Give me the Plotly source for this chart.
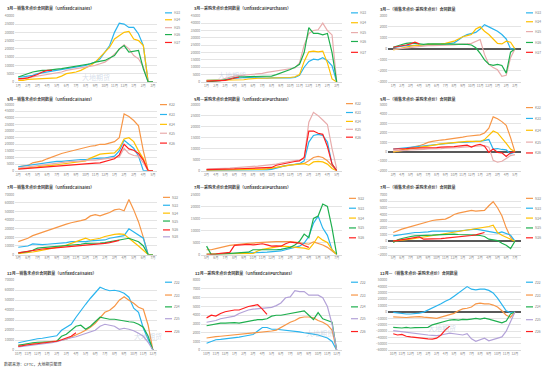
import plotly.graph_objects as go

W, H = 550, 373
X = [i / 2 for i in range(29)]  # half-month steps, 0..14

TICKS_H = ["1月", "2月", "3月", "4月", "5月", "6月", "7月", "8月", "9月", "10月", "11月", "12月", "1月", "2月", "3月"]
TICKS_K = ["3月", "4月", "5月", "6月", "7月", "8月", "9月", "10月", "11月", "12月", "1月", "2月", "3月", "4月", "5月"]
TICKS_N = ["5月", "6月", "7月", "8月", "9月", "10月", "11月", "12月", "1月", "2月", "3月", "4月", "5月", "6月", "7月"]
TICKS_Z = ["10月", "11月", "12月", "1月", "2月", "3月", "4月", "5月", "6月", "7月", "8月", "9月", "10月", "11月", "12月"]

N_ = None
# ---- March contracts ----
H23_S = [3000, 3000, 3500, 4000, 5000, 5500, 6000, 6500, 7000, 7500, 8000, 8500, 9000, 9500, 10000, 11000, 12000, 14000, 18000, 22000, 30000, 35500, 35000, 33000, 33000, 29000, 22000, 0, 0]
H24_S = [1000, 1000, 1500, 1600, 1800, 2000, 2200, 2400, 2500, 3500, 5000, 5500, 6000, 7000, 8500, 10000, 12000, 15000, 18000, 21000, 26000, 28000, 30000, 30500, 26000, 25000, 22000, 0, 0]
H25_S = [1500, 2000, 2500, 3000, 3500, 4000, 4500, 5000, 5500, 6000, 7000, 7500, 8000, 8500, 9000, 9500, 10000, 11000, 12000, 14000, 17000, 20000, 22500, 20000, 16000, 14000, 9000, 0, 0]
H26_S = [3000, 4000, 5000, 6000, 6500, 7000, 7000, 7500, 7800, 8000, 8500, 9000, 9500, 10000, 10500, 11000, 12000, 12500, 13000, 14500, 16000, 20000, 22000, 18000, 18500, 19000, 8000, 0, 0]
H27_S = [2000, 2000, 2500, 3500, 4500, 6000, 7000, 7000, N_, N_, N_, N_, N_, N_, N_, N_, N_, N_, N_, N_, N_, N_, N_, N_, N_, N_, N_, N_, N_]

H23_P = [1000, 1000, 1000, 1200, 1500, 2000, 2500, 2800, 3000, 3000, 2800, 2700, 2500, 2600, 2700, 2600, 2500, 2700, 2800, 3000, 4500, 10000, 14000, 15500, 15000, 16500, 14500, 11000, 0]
H24_P = [1000, 1000, 1200, 1300, 1500, 1500, 1500, 1500, 1500, 2000, 2500, 2500, 2500, 2500, 2500, 2500, 2500, 2700, 3000, 3500, 5000, 14000, 20500, 21000, 20500, 21000, 13000, 2000, 0]
H25_P = [500, 600, 800, 1500, 2500, 3500, 4000, 4300, 4500, 5000, 5200, 5500, 5800, 6500, 7000, 7500, 8000, 8500, 9000, 9500, 13000, 25000, 33000, 35000, 35500, 40000, 35000, 32000, 0]
H26_P = [0, 200, 500, 900, 1500, 2200, 3000, 3400, 3500, 3500, 3500, 3500, 3500, 3800, 4000, 5000, 6000, 7000, 8500, 10000, 12000, 20000, 37000, 33000, 33000, 32000, 33000, 20000, 0]
H27_P = [500, 500, 600, 800, 1000, 1800, 2800, 3200, N_, N_, N_, N_, N_, N_, N_, N_, N_, N_, N_, N_, N_, N_, N_, N_, N_, N_, N_, N_, N_]

H23_N = [100, 200, 250, 300, 300, 300, 350, 350, 350, 400, 400, 450, 450, 500, 550, 800, 1100, 1300, 1400, 1500, 1800, 2200, 2000, 1800, 1600, 1300, 900, 0, 0]
H24_N = [-100, 0, 100, 200, 250, 300, 300, 350, 400, 400, 450, 450, 500, 600, 700, 900, 1100, 1200, 1300, 1800, 2000, 1600, 1300, 900, 500, 450, 700, 600, 0]
H25_N = [-50, 0, 50, 100, 150, 200, 250, 300, 300, 300, 300, 350, 350, 350, 350, 400, 400, 450, 500, 700, 850, -500, -1400, -1700, -1900, -2500, -2400, -800, 0]
H26_N = [150, 300, 400, 500, 550, 500, 450, 400, 450, 450, 450, 450, 450, 450, 450, 450, 450, 400, 350, 100, -400, -1000, -1400, -1500, -1400, -1500, -2200, -300, 0]
H27_N = [150, 200, 250, 350, 450, 600, 450, N_, N_, N_, N_, N_, N_, N_, N_, N_, N_, N_, N_, N_, N_, N_, N_, N_, N_, N_, N_, N_, N_]

# ---- May contracts ----
K22_S = [3000, 3500, 4000, 6000, 6500, 7500, 9000, 10500, 12000, 13000, 14000, 15000, 16000, 16500, 17500, 18500, 19000, 20000, 20000, 21000, 22000, 25000, 43000, 41000, 38000, 34000, 15000, 0, 0]
K23_S = [3000, 3500, 4000, 5000, 5500, 6000, 6500, 6500, 7000, 7000, 7500, 8000, 8000, 8500, 8500, 9000, 9000, 9500, 9500, 10000, 11000, 15000, 23000, 20000, 17000, 11000, 0, 0, 0]
K24_S = [1500, 1800, 2000, 2500, 3000, 3500, 3500, 4000, 4500, 5000, 5500, 5500, 6000, 6500, 7500, 9500, 11000, 12500, 13000, 13000, 13500, 17000, 24000, 25000, 22000, 15000, 9000, 0, 0]
K25_S = [2000, 2500, 3000, 3500, 4000, 4500, 5000, 5500, 5500, 6000, 6500, 7000, 7000, 7500, 7500, 8000, 8000, 8500, 8500, 9000, 9500, 10500, 17000, 13000, 11500, 11000, 6000, 0, 0]
K26_S = [1200, 1500, 1800, 2000, 2500, 3000, 3200, 3500, 3800, 4000, 4200, 4500, 4800, 5000, 5200, 5500, 5800, 6000, 7000, 7500, 9000, 12000, 20000, 16500, 15500, 13000, 8000, 0, 0]

K22_P = [500, 500, 500, 500, 500, 500, 500, 500, 500, 500, 500, 500, 500, 800, 1000, 1500, 2000, 2300, 2600, 2800, 3000, 3300, 4500, 6000, 6500, 6000, 4500, 2000, 0]
K23_P = [200, 200, 200, 200, 200, 200, 200, 200, 200, 200, 200, 200, 200, 400, 600, 1200, 1800, 2300, 2600, 2800, 3200, 4500, 13000, 16000, 16500, 16000, 13000, 3000, 0]
K24_P = [300, 300, 300, 300, 300, 300, 300, 300, 300, 300, 300, 400, 600, 800, 1200, 1600, 2000, 2300, 2500, 2800, 3000, 3200, 2500, 4000, 4200, 4000, 3000, 1000, 0]
K25_P = [800, 800, 900, 1000, 1100, 1200, 1300, 1400, 1600, 1800, 2000, 2100, 2300, 2500, 2700, 3000, 3500, 4000, 4300, 4600, 4800, 5500, 22000, 26500, 25000, 23000, 21000, 10000, 1000]
K26_P = [500, 500, 500, 600, 700, 700, 800, 900, 1000, 1000, 1100, 1200, 1200, 1300, 1500, 2500, 3000, 3500, 4000, 4200, 4500, 6000, 18000, 18000, 17000, 16500, 11000, 3000, 0]

K22_N = [0, 100, 200, 350, 450, 550, 650, 800, 1000, 1100, 1200, 1250, 1300, 1350, 1400, 1500, 1550, 1650, 1700, 1750, 1800, 2000, 2500, 3700, 3500, 3200, 2800, 1500, 0]
K23_N = [300, 350, 400, 450, 500, 550, 600, 650, 700, 750, 800, 850, 900, 900, 950, 1000, 1000, 1050, 1050, 1100, 1100, 1200, 1300, 300, 350, 250, 200, -200, 0]
K24_N = [0, 50, 100, 200, 300, 400, 450, 550, 600, 700, 750, 850, 900, 950, 1000, 1050, 1050, 1100, 1100, 1100, 1100, 1300, 1800, 2200, 2000, 1500, 900, 300, 0]
K25_N = [100, 100, 150, 150, 200, 200, 250, 250, 300, 300, 350, 350, 400, 400, 450, 450, 500, 500, 550, 600, 600, 650, 500, -900, -1100, -1000, -700, -400, -300]
K26_N = [300, 300, 350, 350, 400, 400, 400, 450, 450, 450, 450, 500, 500, 550, 550, 600, 650, 700, 500, 700, 800, 600, -50, 300, -50, -100, -500, -100, 0]

# ---- July contracts ----
N22_S = [15000, 17000, 19000, 22000, 24000, 26000, 28000, 30000, 32000, 34000, 35500, 37000, 38000, 39500, 41000, 45000, 46500, 45000, 47000, 49000, 52000, 53000, 51000, 64000, 52000, 38000, 20000, 0, 0]
N23_S = [8500, 9500, 10000, 12500, 12000, 11500, 12000, 12500, 12500, 13000, 14000, 15000, 15000, 14500, 15000, 16000, 16500, 17000, 17000, 19000, 20000, 21000, 22000, 30000, 26000, 23000, 19000, 0, 0]
N24_S = [1000, 1500, 2000, 3000, 4000, 5000, 6000, 7000, 8000, 9500, 11000, 13000, 15000, 17000, 19000, 17000, 18000, 19000, 21000, 22500, 23500, 24000, 23500, 19000, 15000, 10000, 5000, 0, 0]
N25_S = [2000, 2500, 3500, 5000, 7500, 8000, 8500, 9000, 9000, 9500, 10000, 10500, 11000, 12000, 13000, 13000, 13000, 13500, 14000, 15000, 16000, 17000, 18000, 19000, 17000, 15000, 10000, 0, 0]
N26_S = [2000, 3000, 4000, 5000, 6000, 6500, 7000, 7500, 8000, 8500, 9000, 9500, 10000, 10500, 11000, 11000, 11500, 12000, 13000, 14000, 15500, 16500, N_, N_, N_, N_, N_, N_, N_]

N22_P = [2000, 2000, 2500, 3000, 3500, 3800, 4000, 4300, 4500, 4700, 4800, 5000, 5100, 5200, 5300, 5400, 5500, 5600, 5400, 5200, 5000, 4500, 4300, 5300, 4800, 4000, 3000, 1500, 0]
N23_P = [200, 200, 300, 300, 400, 400, 500, 500, 600, 600, 700, 800, 900, 1000, 1100, 1300, 1500, 2000, 2500, 3000, 3500, 4800, 7500, 13000, 16000, 11000, 8000, 2000, 0]
N24_P = [200, 200, 200, 200, 200, 200, 200, 200, 200, 300, 500, 1500, 2200, 2500, 2800, 3200, 3500, 3400, 3300, 3100, 3000, 2700, 2200, 4500, 7500, 6000, 5000, 2000, 0]
N25_P = [3500, 0, 100, 200, 300, 400, 500, 500, 600, 1000, 2000, 2000, 2000, 1800, 1700, 2000, 2200, 2500, 3000, 4000, 5500, 8500, 7000, 15000, 16000, 21000, 20000, 11000, 0]
N26_P = [0, 0, 200, 500, 700, 900, 3800, 4000, 4000, 4200, 4000, 4300, 4500, 4000, 3500, 3600, 3500, 4500, 5200, 5000, 4800, 3800, 3000, N_, N_, N_, N_, N_, N_]

N22_N = [1300, 1600, 1800, 2000, 2200, 2400, 2600, 2800, 3000, 3100, 3200, 3300, 3300, 3600, 4000, 4200, 4300, 4500, 4600, 4500, 4500, 4600, 5300, 5900, 5000, 3800, 2000, 600, 0]
N23_N = [800, 900, 1100, 1200, 1300, 1300, 1300, 1300, 1400, 1500, 1500, 1500, 1400, 1400, 1400, 1500, 1600, 1700, 1800, 1800, 1700, 1600, 1500, 1300, 1200, 1400, 1100, 900, 0]
N24_N = [0, 50, 100, 200, 300, 400, 500, 600, 700, 800, 900, 1000, 1100, 1200, 1300, 1400, 1500, 1700, 1800, 1900, 2000, 2100, 2200, 2400, 1300, 900, 600, 300, 0]
N25_N = [-200, 200, 400, 600, 700, 800, 800, 900, 900, 900, 950, 1000, 1000, 1050, 1050, 1000, 1000, 1000, 950, 900, 850, 700, 300, 200, 100, -300, -600, -1100, 0]
N26_N = [0, 100, 200, 350, 450, 550, 650, 300, 300, 350, 350, 400, 450, 500, 550, 600, 650, 750, 850, 950, 1100, 1300, N_, N_, N_, N_, N_, N_, N_]

# ---- December contracts ----
Z22_S = [7500, 8500, 9500, 11000, 11500, 12000, 13000, 14000, 14500, 20000, 23000, 26000, 33000, 40000, 46000, 52000, 57000, 63000, 61000, 59500, 60000, 59000, 57000, 53000, 42000, 38000, 22000, 10000, 0]
Z23_S = [5000, 5500, 6000, 6500, 7000, 7500, 8000, 8500, 9500, 10000, 11000, 13000, 15000, 17500, 20000, 23000, 27000, 33000, 38000, 40000, 44000, 50000, 53500, 50000, 47000, 43000, 41000, 25000, 0]
Z24_S = [5000, 6000, 7000, 7500, 8000, 8000, 8000, 8500, 9000, 14000, 16000, 20000, 24000, 25000, 21000, 24000, 29000, 33000, 32000, 31000, 31000, 30000, 29000, 28500, 28000, 26000, 23000, 14000, 0]
Z25_S = [3500, 4000, 4500, 5000, 5500, 6000, 6500, 7500, 8500, 10000, 11500, 12500, 13500, 15000, 16500, 18000, 20000, 24000, 26000, 25000, 24000, 21000, 22000, 21000, 19500, 17000, 14000, 8000, 0]
Z26_S = [4000, 5000, 5500, 6000, 6500, 7000, 7500, 8000, 9000, 10500, 12000, 14000, 17500, N_, N_, N_, N_, N_, N_, N_, N_, N_, N_, N_, N_, N_, N_, N_, N_]

Z22_P = [800, 1000, 1200, 1250, 1300, 1350, 1400, 1500, 1600, 1700, 1800, 2200, 2600, 2600, 2400, 2400, 2350, 2300, 2250, 2200, 2100, 2000, 1950, 1850, 1750, 1600, 1400, 1000, 0]
Z23_P = [1400, 1500, 1550, 1600, 1650, 1700, 1750, 1800, 1850, 1900, 2000, 2050, 2100, 2150, 2200, 2300, 2600, 2900, 3200, 3400, 3700, 3800, 3800, 3700, 3400, 3200, 2900, 2300, 0]
Z24_P = [2800, 2900, 3000, 3100, 3100, 3150, 3150, 3100, 3200, 3300, 3400, 3500, 3500, 3600, 3900, 4000, 4000, 4100, 4200, 4300, 4400, 4500, 4000, 3500, 4300, 3600, 3400, 3200, 0]
Z25_P = [3200, 3300, 3400, 3600, 3700, 3800, 3900, 4200, 4400, 4600, 4700, 4750, 4800, 4850, 4900, 5100, 5400, 6000, 6100, 6800, 6700, 6700, 6300, 6300, 6300, 6000, 5000, 3000, 0]
Z26_P = [3700, 4000, 3900, 4200, 4400, 4500, 4600, 4600, 4800, 5000, 5100, 5200, 4700, 4100, N_, N_, N_, N_, N_, N_, N_, N_, N_, N_, N_, N_, N_, N_, N_]

Z22_N = [-500, -1500, -2500, -3000, -3000, -2500, -1500, 0, 3000, 6000, 9000, 13000, 17000, 20000, 25000, 30000, 36000, 40000, 36000, 35000, 36000, 36000, 34000, 30000, 22000, 12000, 2000, -1000, 0]
Z23_N = [-7500, -8000, -9000, -8500, -8000, -7500, -7000, -8000, -8000, -9000, -10000, -8000, -6000, -4000, -2000, 2000, 5000, 6000, 8000, 13000, 14000, 13000, 13000, 11000, 8000, 2000, -5000, -8000, 0]
Z24_N = [-24000, -25000, -25000, -24000, -25000, -24500, -24500, -24000, -24000, -20000, -18000, -16000, -14000, -12500, -12000, -12500, -11500, -12000, -11000, -10000, -11000, -9500, -11000, -13000, -15500, -17000, -14000, -3000, 0]
Z25_N = [-29000, -30000, -31000, -32000, -33000, -34000, -35000, -35500, -36000, -36500, -37000, -36000, -34000, -33000, -34000, -35000, -36000, -34000, -42000, -46000, -43000, -41000, -45000, -43000, -42000, -39000, -30000, -15000, 0]
Z26_N = [-34000, -36000, -35000, -38000, -39000, -40000, -41000, -42000, -42000, -42500, -41000, -36000, -28000, -22000, N_, N_, N_, N_, N_, N_, N_, N_, N_, N_, N_, N_, N_, N_, N_]

BLUE, YEL, PINK, GRN, RED, ORG, PUR = "#2AB4EE", "#FFC000", "#E8ACAC", "#1EAF4E", "#FF1F1F", "#F79646", "#B3A2D8"

H_NAMES = ["H23", "H24", "H25", "H26", "H27"]
H_COLORS = [BLUE, YEL, PINK, GRN, RED]
K_NAMES = ["K22", "K23", "K24", "K25", "K26"]
K_COLORS = [ORG, BLUE, YEL, PINK, RED]
N_NAMES = ["N22", "N23", "N24", "N25", "N26", "N28"]
N_COLORS = [ORG, BLUE, YEL, GRN, RED, PUR]
Z_NAMES = ["Z22", "Z23", "Z24", "Z25", "Z26"]
Z_COLORS = [BLUE, ORG, GRN, PUR, RED]

S_TAIL = "销售未点价合同数量（UnfixedCallSales）"
P_TAIL = "采购未点价合同数量（UnfixedCallPurchases）"
D_TAIL = "（销售未点价-采购未点价）合同数量"

# panel: title, ticks, series, names, colors, y-range, dtick
PANELS = [
    ("3月—" + S_TAIL, TICKS_H, [H23_S, H24_S, H25_S, H26_S, H27_S], H_NAMES, H_COLORS, [0, 40000], 5000),
    ("3月—" + P_TAIL, TICKS_H, [H23_P, H24_P, H25_P, H26_P, H27_P], H_NAMES, H_COLORS, [0, 45000], 5000),
    ("3月—" + D_TAIL, TICKS_H, [H23_N, H24_N, H25_N, H26_N, H27_N], H_NAMES, H_COLORS, [-3000, 3000], 1000),
    ("5月—" + S_TAIL, TICKS_K, [K22_S, K23_S, K24_S, K25_S, K26_S], K_NAMES, K_COLORS, [0, 50000], 5000),
    ("5月—" + P_TAIL, TICKS_K, [K22_P, K23_P, K24_P, K25_P, K26_P], K_NAMES, K_COLORS, [0, 30000], 5000),
    ("5月—" + D_TAIL, TICKS_K, [K22_N, K23_N, K24_N, K25_N, K26_N], K_NAMES, K_COLORS, [-2000, 5000], 1000),
    ("7月—" + S_TAIL, TICKS_N, [N22_S, N23_S, N24_S, N25_S, N26_S], N_NAMES, N_COLORS, [0, 70000], 10000),
    ("7月—" + P_TAIL, TICKS_N, [N22_P, N23_P, N24_P, N25_P, N26_P], N_NAMES[:5], N_COLORS[:5], [0, 25000], 5000),
    ("7月—" + D_TAIL, TICKS_N, [N22_N, N23_N, N24_N, N25_N, N26_N], N_NAMES[:5], N_COLORS[:5], [-2000, 7000], 1000),
    ("12月—" + S_TAIL, TICKS_Z, [Z22_S, Z23_S, Z24_S, Z25_S, Z26_S], Z_NAMES, Z_COLORS, [0, 70000], 10000),
    ("12月—" + P_TAIL, TICKS_Z, [Z22_P, Z23_P, Z24_P, Z25_P, Z26_P], Z_NAMES, Z_COLORS, [0, 8000], 1000),
    ("12月—" + D_TAIL, TICKS_Z, [Z22_N, Z23_N, Z24_N, Z25_N, Z26_N], Z_NAMES, Z_COLORS, [-60000, 50000], 10000),
]

# layout geometry (pixels)
COLS = [(15, 157, [-0.34, 14.42]), (201, 342, [-0.6, 14.57]), (388, 521, [-0.6, 14.7])]
ROWS = [(13, 80), (103, 170), (194, 255), (281, 352)]
TITLE_POS = [(5, 5), (192, 5), (378, 6), (5, 97), (192, 97), (378, 97),
             (5, 187), (192, 187), (378, 187), (5, 274), (193, 274), (378, 274)]
LEG_X = [165, 351, 526, 160, 346, 526, 163, 349, 526, 165, 351, 526]
LEG_Y = [[10, 17, 25, 32, 40], [10, 20, 30, 39, 50], [10, 19, 29, 40, 50],
         [103, 113, 123, 132, 142], [102, 111, 120, 128, 136], [106, 117, 129, 141, 152],
         [197, 205, 213, 221, 230, 237], [198, 208, 218, 228, 238], [198, 208, 218, 228, 238],
         [283, 296, 308, 320, 333], [283, 296, 308, 320, 333], [283, 296, 308, 321, 333]]
WATERMARKS = [(80, 68), (232, 66), (132, 345), (320, 342), (458, 337)]


def px(x):
    return x / W


def py(y):
    return 1 - y / H


CJK = "Noto Sans CJK SC"
fig = go.Figure()
shapes, annos = [], []
layout = dict(width=W, height=H, margin=dict(l=0, r=0, t=0, b=0), autosize=False,
              paper_bgcolor="white", plot_bgcolor="white", showlegend=False,
              font=dict(family=CJK, size=4, color="#595959"))

for i, (title, ticks, series, names, colors, yr, dt) in enumerate(PANELS):
    r, c = divmod(i, 3)
    x0, x1, xr = COLS[c]
    y0, y1 = ROWS[r]
    k = "" if i == 0 else str(i + 1)
    layout["xaxis" + k] = dict(domain=[px(x0), px(x1)], range=xr, anchor="y" + k,
                               tickmode="array", tickvals=list(range(15)), ticktext=ticks,
                               tickangle=0, showgrid=False, zeroline=False, showline=True,
                               linecolor="#D9D9D9", linewidth=0.8, ticks="",
                               tickfont=dict(size=3.3, color="#7F7F7F"))
    layout["yaxis" + k] = dict(domain=[py(y1), py(y0)], range=yr, anchor="x" + k, dtick=dt,
                               tickformat="d", showgrid=True, gridcolor="#E4E4E4", gridwidth=0.6,
                               zeroline=True, zerolinecolor="#595959", zerolinewidth=1.6,
                               showline=False, ticks="", tickfont=dict(size=3.3, color="#7F7F7F"))
    for vals, nm, col in zip(series, names, colors):
        fig.add_trace(go.Scatter(x=X, y=vals, mode="lines", name=nm,
                                 line=dict(color=col, width=1.2),
                                 xaxis="x" + k, yaxis="y" + k, showlegend=False))
    tx, ty = TITLE_POS[i]
    annos.append(dict(x=px(tx), y=py(ty), xref="paper", yref="paper", xanchor="left", yanchor="middle",
                      showarrow=False, text="<b>" + title + "</b>",
                      font=dict(family=CJK, size=4, color="#404040")))
    lx = LEG_X[i]
    for nm, col, ly in zip(names, colors, LEG_Y[i]):
        shapes.append(dict(type="line", xref="paper", yref="paper", x0=px(lx), x1=px(lx + 7),
                           y0=py(ly), y1=py(ly), line=dict(color=col, width=1.2)))
        annos.append(dict(x=px(lx + 8), y=py(ly), xref="paper", yref="paper", xanchor="left",
                          yanchor="middle", showarrow=False, text=nm, borderpad=0,
                          font=dict(family=CJK, size=3.3, color="#7F7F7F")))

for wx, wy in WATERMARKS:
    annos.append(dict(x=px(wx), y=py(wy), xref="paper", yref="paper", showarrow=False,
                      text="大地期货", font=dict(family=CJK, size=7, color="rgba(150,170,200,0.4)")))

annos.append(dict(x=px(2), y=py(366), xref="paper", yref="paper", xanchor="left", yanchor="middle",
                  showarrow=False, text="数据来源：CFTC，大地期货整理",
                  font=dict(family=CJK, size=4, color="#404040")))

layout["shapes"] = shapes
layout["annotations"] = annos
fig.update_layout(**layout)
fig.write_html("out.html", config={"displayModeBar": False},
               post_script="document.body.style.margin='0';document.body.style.overflow='hidden';")
